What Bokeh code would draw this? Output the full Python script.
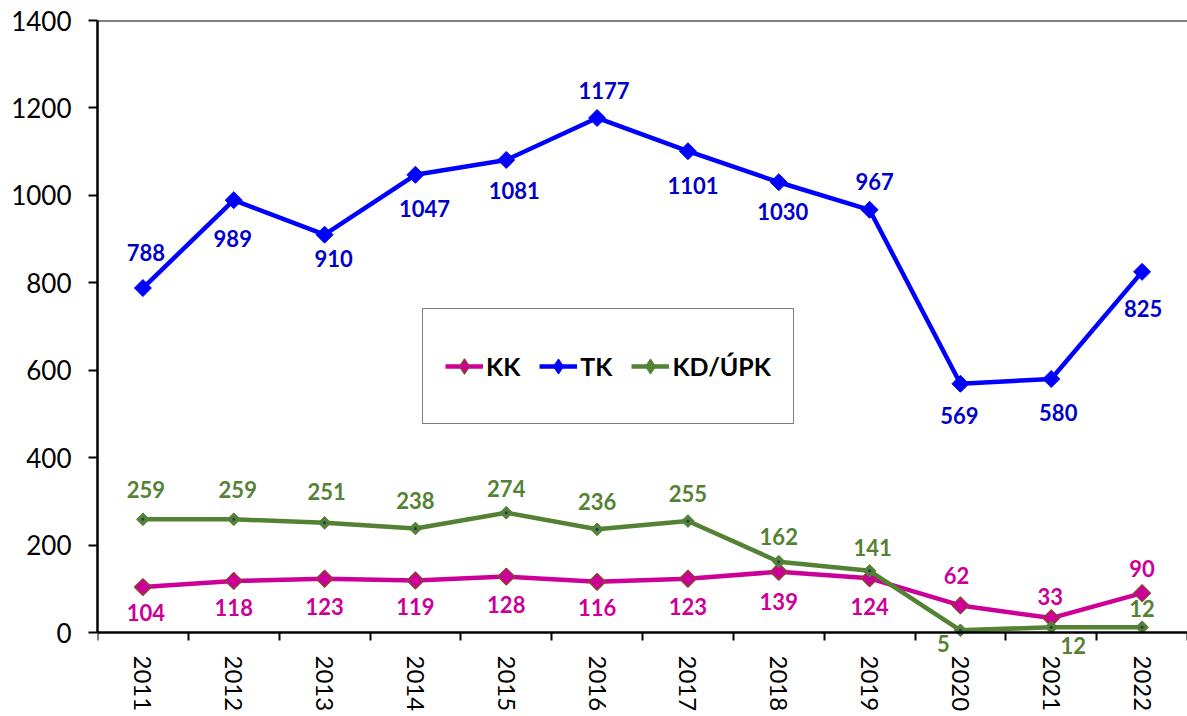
from bokeh.plotting import figure
from bokeh.models import (Range1d, FixedTicker, Legend, LegendItem, Span, ColumnDataSource)
from bokeh.core.properties import value
from bokeh.embed import file_html
from bokeh.resources import INLINE

years = ["2011", "2012", "2013", "2014", "2015", "2016", "2017", "2018", "2019", "2020", "2021", "2022"]
kk = [104, 118, 123, 119, 128, 116, 123, 139, 124, 62, 33, 90]
tk = [788, 989, 910, 1047, 1081, 1177, 1101, 1030, 967, 569, 580, 825]
kd = [259, 259, 251, 238, 274, 236, 255, 162, 141, 5, 12, 12]
y_ticks = [0, 200, 400, 600, 800, 1000, 1200, 1400]
Y_MAX = 1400

# label placement (screen pixel offsets, positive dy = down)
tk_dx = [3, -1, 9, 9, 8, 7, 5, 4, 5, -1, 7, 1]
tk_dy = [-36, 38, 24, 34, 31, -27, 34, 29, -28, 32, 34, 37]
kk_dx = [3, 0, 0, 0, 0, 0, 0, 0, 0, -4, -1, 0]
kk_dy = [25, 27, 28, 26, 28, 26, 28, 30, 28, -30, -22, -25]
kd_dx = [3, 4, 2, 0, 0, 0, 0, 0, 3, -17, 22, 0]
kd_dy = [-30, -30, -31, -28, -24, -28, -28, -25, -23, 13, 18, -19]

C_KK = "#CC0099"
C_TK = "#0000FF"
C_TK_TXT = "#0000CC"
C_KD = "#548235"
FONT = "Lato"

W, H = 1187, 716
TOP, LEFT, AXIS_SPACE = 20, 97, 84          # layout in pixels
plot_h = H - TOP - AXIS_SPACE
y_low = -Y_MAX * AXIS_SPACE / plot_h         # room below the x axis for its labels

xs = [i + 0.5 for i in range(len(years))]

p = figure(width=W, height=H, output_backend="svg", toolbar_location=None,
           x_range=Range1d(0, len(years)), y_range=Range1d(y_low, Y_MAX),
           min_border_left=LEFT, min_border_top=TOP, min_border_bottom=0, min_border_right=0)
p.outline_line_color = None
p.xgrid.grid_line_color = None
p.ygrid.grid_line_color = None
p.background_fill_color = "white"
p.border_fill_color = "white"

# x axis: labels at category centres, tick marks at category boundaries
xa = p.xaxis[0]
xa.fixed_location = 0
xa.ticker = FixedTicker(ticks=xs, minor_ticks=list(range(len(years) + 1)))
xa.major_label_overrides = {x: y for x, y in zip(xs, years)}
xa.major_tick_out = 0
xa.major_tick_in = 0
xa.minor_tick_out = 8
xa.minor_tick_in = 0
xa.minor_tick_line_color = "black"
xa.minor_tick_line_width = 2
xa.major_label_orientation = "vertical"
xa.major_label_standoff = 15
xa.axis_line_width = 2.5
xa.axis_line_color = "black"
xa.major_label_text_font_size = "24px"

ya = p.yaxis[0]
ya.bounds = (0, Y_MAX)
ya.ticker = FixedTicker(ticks=y_ticks, minor_ticks=[])
ya.major_tick_out = 9
ya.major_tick_in = 0
ya.major_tick_line_width = 2
ya.major_tick_line_color = "black"
ya.minor_tick_line_color = None
ya.major_label_standoff = 17
ya.axis_line_width = 2.5
ya.axis_line_color = "black"
ya.major_label_text_font_size = "26px"

for ax in (xa, ya):
    ax.major_label_text_font = FONT
    ax.major_label_text_color = "black"

p.add_layout(Span(location=Y_MAX, dimension="width", line_color="black", line_width=2))

# series
kk_line = p.line(xs, kk, line_color=C_KK, line_width=4.5, line_join="round")
kk_pts = p.scatter(xs, kk, marker="square", angle=0.785398, size=12,
                   fill_color=C_KK, line_color="#7F4F1F", line_width=1.2)
kk_leg = p.scatter(xs, kk, marker="diamond", size=0, fill_color=C_KK,
                   line_color="#7F4F1F", line_width=1.2)

tk_line = p.line(xs, tk, line_color=C_TK, line_width=4.5, line_join="round")
tk_pts = p.scatter(xs, tk, marker="square", angle=0.785398, size=12,
                   fill_color=C_TK, line_color=C_TK, line_width=1)
tk_leg = p.scatter(xs, tk, marker="diamond", size=0, fill_color=C_TK, line_color=C_TK)

kd_line = p.line(xs, kd, line_color=C_KD, line_width=4.5, line_join="round")
kd_pts = p.scatter(xs, kd, marker="square", angle=0.785398, size=9,
                   fill_color=C_KD, line_color=C_KD, line_width=1)
p.scatter(xs, kd, marker="circle", size=3, fill_color="#1F3864", line_color=None)
kd_leg = p.scatter(xs, kd, marker="diamond", size=0, fill_color=C_KD, line_color=C_KD)

def labels(vals, dx, dy, color):
    src = ColumnDataSource(dict(x=xs, y=vals, t=[str(v) for v in vals], dx=dx, dy=dy))
    p.text(x="x", y="y", text="t", x_offset="dx", y_offset="dy", source=src,
           text_font=value(FONT), text_font_style="bold", text_font_size="22px",
           text_color=color, text_align="center", text_baseline="middle")

labels(tk, tk_dx, tk_dy, C_TK_TXT)
labels(kk, kk_dx, kk_dy, C_KK)
labels(kd, kd_dx, kd_dy, C_KD)

legend = Legend(items=[LegendItem(label="KK", renderers=[kk_line, kk_leg]),
                       LegendItem(label="TK", renderers=[tk_line, tk_leg]),
                       LegendItem(label="KD/ÚPK", renderers=[kd_line, kd_leg])],
                location=(325, 208 + AXIS_SPACE), orientation="horizontal",
                glyph_width=38, glyph_height=70, label_standoff=3, spacing=19,
                padding=22, margin=0,
                border_line_color="black", border_line_width=1.5,
                background_fill_color="white", background_fill_alpha=1,
                label_text_font=FONT, label_text_font_style="bold",
                label_text_font_size="25px", label_text_color="black")
p.add_layout(legend)

open("out.html", "w").write(file_html(p, INLINE))
